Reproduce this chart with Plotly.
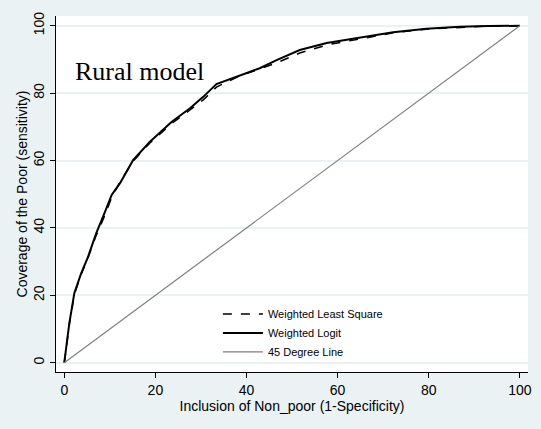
import plotly.graph_objects as go

# Data (percentages)
logit_x = [0, 0.5, 1.1, 2.2, 3.7, 5.1, 7.0, 8.8, 10.4, 12.2, 15.1, 18.8, 23.6, 27.6, 30.5,
           33.4, 38.6, 42.9, 46.6, 51.7, 57.6, 64.9, 72.2, 79.5, 86.8, 93.0, 100]
logit_y = [0, 6.0, 11.7, 20.6, 26.5, 31.0, 38.4, 44.3, 49.8, 53.2, 60.1, 65.6, 71.5, 75.5, 78.9,
           82.7, 85.4, 87.4, 89.8, 92.8, 94.9, 96.4, 98.1, 99.1, 99.7, 99.9, 100]

wls_x = [0, 0.5, 1.1, 2.2, 3.7, 5.1, 7.0, 8.8, 10.4, 12.2, 15.1, 18.8, 23.6, 27.6, 30.5,
         33.4, 38.6, 42.9, 46.6, 51.7, 57.6, 64.9, 72.2, 79.5, 86.8, 93.0, 100]
wls_y = [0, 5.5, 11.2, 20.2, 26.2, 30.7, 37.8, 43.4, 49.0, 53.6, 59.8, 65.2, 71.0, 75.0, 78.0,
         81.8, 85.2, 87.2, 89.0, 91.9, 94.3, 96.1, 97.9, 99.0, 99.6, 99.9, 100]

diag_x = [0, 100]
diag_y = [0, 100]

x_ticks = [0, 20, 40, 60, 80, 100]
y_ticks = [0, 20, 40, 60, 80, 100]

BG = "#eaf2f3"
FONT = "Liberation Sans, Arial, sans-serif"

fig = go.Figure()
fig.add_trace(go.Scatter(x=wls_x, y=wls_y, mode="lines", name="Weighted Least Square",
                         line=dict(color="black", width=1.5, dash="dash")))
fig.add_trace(go.Scatter(x=logit_x, y=logit_y, mode="lines", name="Weighted Logit",
                         line=dict(color="black", width=2)))
fig.add_trace(go.Scatter(x=diag_x, y=diag_y, mode="lines", name="45 Degree Line",
                         line=dict(color="#7f7f7f", width=1.2)))

fig.add_annotation(x=1.9, y=86.3, xref="x", yref="y", text="Rural model",
                   showarrow=False, xanchor="left", yanchor="middle",
                   font=dict(family="Liberation Serif, Times New Roman, serif", size=26, color="black"))

fig.update_layout(
    width=541, height=429,
    margin=dict(l=56, r=13, t=16, b=57),
    paper_bgcolor=BG, plot_bgcolor="white",
    font=dict(family=FONT, color="black"),
    showlegend=True,
    legend=dict(x=0.343, y=0.204, xanchor="left", yanchor="top",
                bgcolor="rgba(0,0,0,0)", font=dict(size=11, family=FONT),
                tracegroupgap=0, itemwidth=40),
    xaxis=dict(range=[-1.82, 101.8], tickvals=x_ticks, showgrid=False, zeroline=False,
               automargin=False,
               showline=True, linecolor="black", linewidth=1,
               ticks="outside", ticklen=5, tickcolor="black",
               tickfont=dict(size=14), title=dict(text="Inclusion of Non_poor (1-Specificity)",
                                                  font=dict(size=14), standoff=2)),
    yaxis=dict(range=[-2.76, 102.9], tickvals=y_ticks, showgrid=True, gridcolor=BG, gridwidth=1.5,
               zeroline=False, automargin=False, showline=True, linecolor="black", linewidth=1,
               ticks="outside", ticklen=5, tickcolor="black", tickangle=-90,
               tickfont=dict(size=14), title=dict(text="Coverage of the Poor (sensitivity)",
                                                  font=dict(size=14), standoff=0)),
)

fig.write_html("out.html", config={"displayModeBar": False},
               post_script="document.body.style.margin='0';document.body.style.overflow='hidden';")
